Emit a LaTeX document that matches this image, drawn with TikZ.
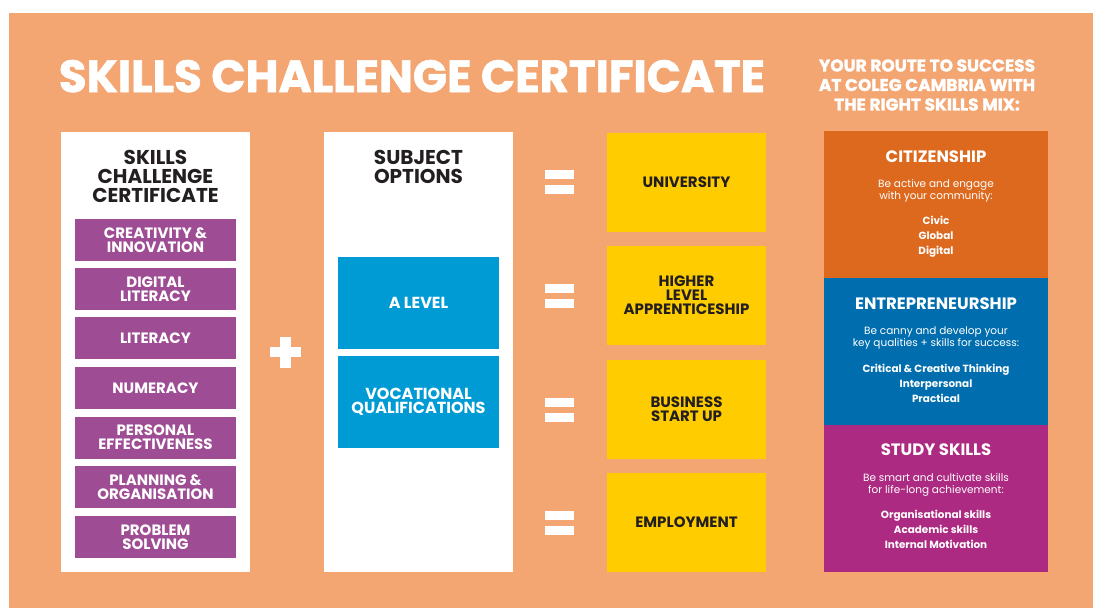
\documentclass[tikz,border=0pt]{standalone}
\usepackage{fontspec}
\setmainfont{Poppins}
\newfontfamily\heavyfont{Poppins}[FakeBold=1.5]
\usepackage{tikz}
\usepackage{xcolor}
\definecolor{bgorange}{RGB}{244,166,114}
\definecolor{skillpurple}{RGB}{158,76,148}
\definecolor{optblue}{RGB}{0,155,212}
\definecolor{routeyellow}{RGB}{255,204,0}
\definecolor{darktext}{RGB}{35,31,32}
\definecolor{citorange}{RGB}{221,105,30}
\definecolor{entblue}{RGB}{0,110,174}
\definecolor{studymagenta}{RGB}{173,42,130}

\begin{document}
\begin{tikzpicture}[x=1pt, y=-1pt,
  column/.style={fill=white, inner sep=0, minimum width=189, minimum height=440},
  colhead/.style={text=darktext, align=center, font=\fontsize{20}{19}\selectfont\bfseries},
  skill/.style={fill=skillpurple, text=white, inner sep=0, minimum width=161, minimum height=42,
    align=center, font=\fontsize{15}{14}\selectfont\bfseries},
  option/.style={fill=optblue, text=white, inner sep=0, minimum width=161, minimum height=92,
    align=center, font=\fontsize{16}{14.5}\selectfont\bfseries},
  route/.style={fill=routeyellow, text=darktext, inner sep=0, minimum width=159, minimum height=99,
    align=center, font=\fontsize{15}{14}\selectfont\bfseries},
  bar/.style={fill=white, inner sep=0, minimum width=29, minimum height=9},
  panel/.style={inner sep=0, minimum width=224, minimum height=147},
  paneltitle/.style={text=white, font=\fontsize{16.5}{16}\selectfont\bfseries},
  paneltext/.style={text=white, align=center, font=\fontsize{10.5}{12.5}\selectfont},
  panelitems/.style={text=white, align=center, font=\fontsize{10.4}{15}\selectfont\bfseries}]

  % Background
  \useasboundingbox (0,0) rectangle (1093,608);
  \fill[bgorange] (9,13) rectangle (1093,608);

  % Headline
  \node[text=white, anchor=base, inner sep=0, font=\heavyfont\fontsize{45}{45}\selectfont\bfseries] (title) at (412,92) {SKILLS CHALLENGE CERTIFICATE};
  \node[text=white, align=center, inner sep=0, font=\heavyfont\fontsize{17}{19.5}\selectfont\bfseries] (route) at (927,85) {YOUR ROUTE TO SUCCESS\\AT COLEG CAMBRIA WITH\\THE RIGHT SKILLS MIX:};

  % Skills Challenge Certificate column
  \node[column] (certcol) at (155.5,352) {};
  \node[colhead] (certhead) at (155.5,176) {SKILLS\\CHALLENGE\\CERTIFICATE};
  \node[skill] (creativity) at (155.5,240) {CREATIVITY \&\\INNOVATION};
  \node[skill] (digital) at (155.5,289) {DIGITAL\\LITERACY};
  \node[skill] (literacy) at (155.5,338) {LITERACY};
  \node[skill] (numeracy) at (155.5,388) {NUMERACY};
  \node[skill] (personal) at (155.5,437.5) {PERSONAL\\EFFECTIVENESS};
  \node[skill] (planning) at (155.5,487) {PLANNING \&\\ORGANISATION};
  \node[skill] (problem) at (155.5,537) {PROBLEM\\SOLVING};

  % Plus sign
  \fill[white] (270,347) rectangle (301,357);
  \fill[white] (280,337) rectangle (291,368);

  % Subject options column
  \node[column] (subjcol) at (418.5,352) {};
  \node[colhead] (subjhead) at (418.5,166.5) {SUBJECT\\OPTIONS};
  \node[option] (alevel) at (418.5,303) {A LEVEL};
  \node[option] (vocational) at (418.5,402) {VOCATIONAL\\QUALIFICATIONS};

  % Routes with equals signs
  \node[route] (university) at (686.5,182) {UNIVERSITY};
  \node[route] (apprentice) at (686.5,295.5) {HIGHER\\LEVEL\\APPRENTICESHIP};
  \node[route] (business) at (686.5,409.5) {BUSINESS\\START UP};
  \node[route] (employment) at (686.5,522.5) {EMPLOYMENT};
  \node[bar] (eqa1) at (559.5,174.5) {};
  \node[bar] (eqa2) at (559.5,189.5) {};
  \node[bar] (eqb1) at (559.5,288) {};
  \node[bar] (eqb2) at (559.5,303.5) {};
  \node[bar] (eqc1) at (559.5,402) {};
  \node[bar] (eqc2) at (559.5,417) {};
  \node[bar] (eqd1) at (559.5,515.5) {};
  \node[bar] (eqd2) at (559.5,530.5) {};

  % Skills mix panels
  \node[panel, fill=citorange] (citizen) at (936,204.5) {};
  \node[paneltitle] at ([yshift=-26]citizen.north) {CITIZENSHIP};
  \node[paneltext] at ([yshift=-60]citizen.north) {Be active and engage\\with your community:};
  \node[panelitems] at ([yshift=-106]citizen.north) {Civic\\Global\\Digital};

  \node[panel, fill=entblue] (entre) at (936,351.5) {};
  \node[paneltitle] at ([yshift=-26]entre.north) {ENTREPRENEURSHIP};
  \node[paneltext] at ([yshift=-60]entre.north) {Be canny and develop your\\key qualities + skills for success:};
  \node[panelitems] at ([yshift=-106]entre.north) {Critical \& Creative Thinking\\Interpersonal\\Practical};

  \node[panel, fill=studymagenta] (study) at (936,498.5) {};
  \node[paneltitle] at ([yshift=-25]study.north) {STUDY SKILLS};
  \node[paneltext] at ([yshift=-60]study.north) {Be smart and cultivate skills\\for life-long achievement:};
  \node[panelitems] at ([yshift=-105]study.north) {Organisational skills\\Academic skills\\Internal Motivation};
\end{tikzpicture}
\end{document}
